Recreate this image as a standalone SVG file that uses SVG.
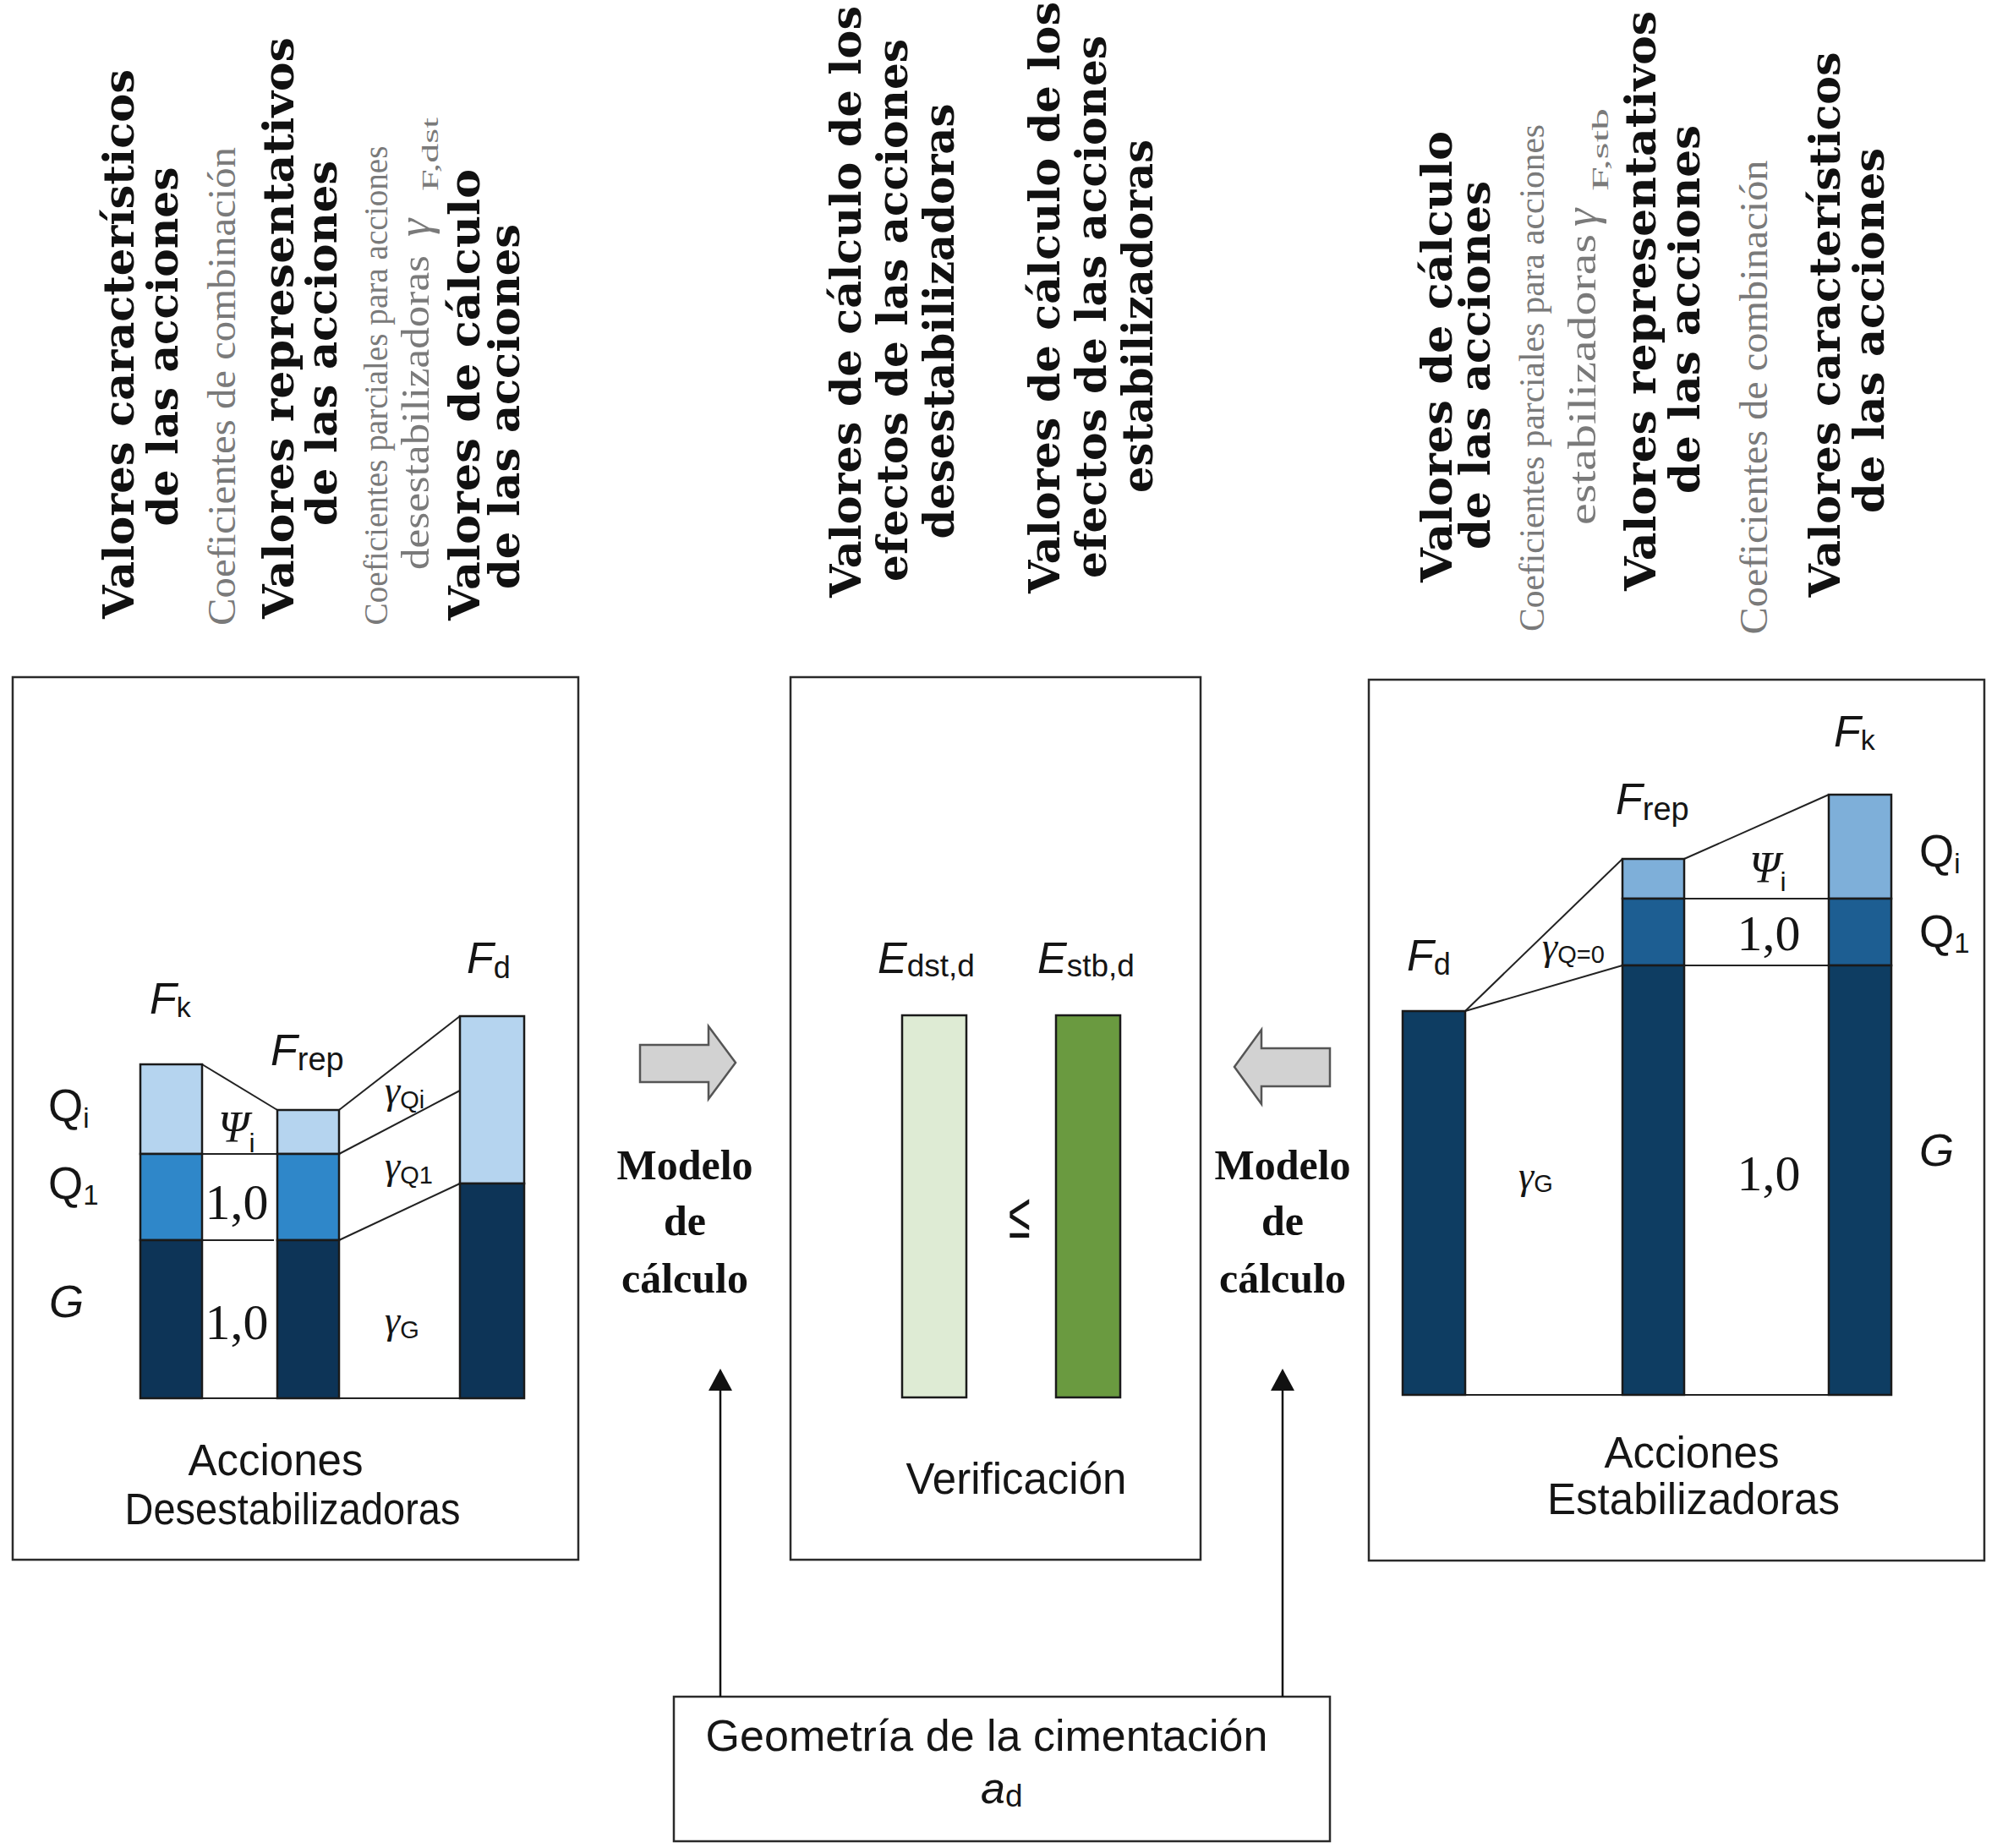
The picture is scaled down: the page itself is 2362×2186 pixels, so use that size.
<svg xmlns="http://www.w3.org/2000/svg" width="2362" height="2186" viewBox="0 0 2362 2186">
<style>
.bold{font-family:"DejaVu Serif","Liberation Serif",serif;font-weight:bold;font-size:50px;fill:#111;text-anchor:middle}
.gray{font-family:"Liberation Serif",serif;fill:#7a7a7a;text-anchor:middle}
.grs{font-family:"Liberation Serif",serif;fill:#7a7a7a}
.sans{font-family:"Liberation Sans",Arial,sans-serif;fill:#151515}
.ser{font-family:"Liberation Serif",serif;fill:#151515}
.box{fill:none;stroke:#2a2a2a;stroke-width:2.5}
.col{stroke:#1a1a1a;stroke-width:2.5}
.ln{stroke:#222;stroke-width:2;fill:none}
.lq{fill:#b5d4ef}.lq1{fill:#2f87c9}.lg{fill:#0d3457}
.rq{fill:#7eafd9}.rq1{fill:#1d5e92}.rg{fill:#0e3d62}
.blk{fill:#d2d2d2;stroke:#555;stroke-width:2.5}
.mdl{font-family:"Liberation Serif",serif;font-weight:bold;font-size:50px;fill:#111;text-anchor:middle}
</style>
<rect width="2362" height="2186" fill="#fff"/>

<!-- Top vertical captions, left group -->
<g id="captions-left">
<text class="bold" transform="translate(158,407) rotate(-90)" textLength="650" lengthAdjust="spacingAndGlyphs">Valores característicos</text>
<text class="bold" transform="translate(210,410) rotate(-90)" textLength="425" lengthAdjust="spacingAndGlyphs">de las acciones</text>
<text class="gray" font-size="46" transform="translate(278,457) rotate(-90)" textLength="566" lengthAdjust="spacingAndGlyphs">Coeficientes de combinación</text>
<text class="bold" transform="translate(347,388) rotate(-90)" textLength="688" lengthAdjust="spacingAndGlyphs">Valores representativos</text>
<text class="bold" transform="translate(398,406) rotate(-90)" textLength="432" lengthAdjust="spacingAndGlyphs">de las acciones</text>
<text class="gray" font-size="40" transform="translate(458,456) rotate(-90)" textLength="567" lengthAdjust="spacingAndGlyphs">Coeficientes parciales para acciones</text>
<text class="gray" font-size="46" transform="translate(507,488) rotate(-90)" textLength="372" lengthAdjust="spacingAndGlyphs">desestabilizadoras</text>
<text class="grs" font-size="54" font-style="italic" transform="translate(508,280) rotate(-90)">γ</text>
<text class="grs" font-size="27" transform="translate(518,226) rotate(-90)" textLength="87" lengthAdjust="spacingAndGlyphs">F,dst</text>
<text class="bold" transform="translate(567,467) rotate(-90)" textLength="534" lengthAdjust="spacingAndGlyphs">Valores de cálculo</text>
<text class="bold" transform="translate(614,481) rotate(-90)" textLength="432" lengthAdjust="spacingAndGlyphs">de las acciones</text>
</g>

<!-- Top vertical captions, middle group -->
<g id="captions-middle">
<text class="bold" transform="translate(1018,357) rotate(-90)" textLength="700" lengthAdjust="spacingAndGlyphs">Valores de cálculo de los</text>
<text class="bold" transform="translate(1073,367) rotate(-90)" textLength="642" lengthAdjust="spacingAndGlyphs">efectos de las acciones</text>
<text class="bold" transform="translate(1128,380) rotate(-90)" textLength="515" lengthAdjust="spacingAndGlyphs">desestabilizadoras</text>
<text class="bold" transform="translate(1253,352) rotate(-90)" textLength="700" lengthAdjust="spacingAndGlyphs">Valores de cálculo de los</text>
<text class="bold" transform="translate(1308,363) rotate(-90)" textLength="642" lengthAdjust="spacingAndGlyphs">efectos de las acciones</text>
<text class="bold" transform="translate(1363,374) rotate(-90)" textLength="418" lengthAdjust="spacingAndGlyphs">estabilizadoras</text>
</g>

<!-- Top vertical captions, right group -->
<g id="captions-right">
<text class="bold" transform="translate(1717,422) rotate(-90)" textLength="534" lengthAdjust="spacingAndGlyphs">Valores de cálculo</text>
<text class="bold" transform="translate(1762,432) rotate(-90)" textLength="436" lengthAdjust="spacingAndGlyphs">de las acciones</text>
<text class="gray" font-size="42" transform="translate(1826,447) rotate(-90)" textLength="600" lengthAdjust="spacingAndGlyphs">Coeficientes parciales para acciones</text>
<text class="gray" font-size="46" transform="translate(1887,449) rotate(-90)" textLength="344" lengthAdjust="spacingAndGlyphs">estabilizadoras</text>
<text class="grs" font-size="54" font-style="italic" transform="translate(1888,268) rotate(-90)">γ</text>
<text class="grs" font-size="27" transform="translate(1902,226) rotate(-90)" textLength="98" lengthAdjust="spacingAndGlyphs">F,stb</text>
<text class="bold" transform="translate(1958,356) rotate(-90)" textLength="686" lengthAdjust="spacingAndGlyphs">Valores representativos</text>
<text class="bold" transform="translate(2010,366) rotate(-90)" textLength="436" lengthAdjust="spacingAndGlyphs">de las acciones</text>
<text class="gray" font-size="46" transform="translate(2090,470) rotate(-90)" textLength="561" lengthAdjust="spacingAndGlyphs">Coeficientes de combinación</text>
<text class="bold" transform="translate(2176,384) rotate(-90)" textLength="645" lengthAdjust="spacingAndGlyphs">Valores característicos</text>
<text class="bold" transform="translate(2228,391) rotate(-90)" textLength="432" lengthAdjust="spacingAndGlyphs">de las acciones</text>
</g>

<!-- Left panel: Acciones Desestabilizadoras -->
<g id="panel-desestabilizadoras">
<rect class="box" x="15" y="801" width="669" height="1044"/>
<line class="ln" x1="166" y1="1654" x2="620" y2="1654"/>
<line class="ln" x1="239" y1="1259" x2="328" y2="1313"/>
<line class="ln" x1="239" y1="1365" x2="328" y2="1365"/>
<line class="ln" x1="239" y1="1467" x2="324" y2="1467"/>
<line class="ln" x1="401" y1="1313" x2="544" y2="1202"/>
<line class="ln" x1="401" y1="1365" x2="544" y2="1290"/>
<line class="ln" x1="401" y1="1467" x2="544" y2="1400"/>
<rect class="lq col" x="166" y="1259" width="73" height="106"/>
<rect class="lq1 col" x="166" y="1365" width="73" height="102"/>
<rect class="lg col" x="166" y="1467" width="73" height="187"/>
<rect class="lq col" x="328" y="1313" width="73" height="52"/>
<rect class="lq1 col" x="328" y="1365" width="73" height="102"/>
<rect class="lg col" x="328" y="1467" width="73" height="187"/>
<rect class="lq col" x="544" y="1202" width="76" height="198"/>
<rect class="lg col" x="544" y="1400" width="76" height="254"/>
<text class="sans" x="177" y="1199" font-size="52"><tspan font-style="italic">F</tspan><tspan font-size="34" dy="4">k</tspan></text>
<text class="sans" x="320" y="1260" font-size="52"><tspan font-style="italic">F</tspan><tspan font-size="38" dy="6">rep</tspan></text>
<text class="sans" x="552" y="1151" font-size="52"><tspan font-style="italic">F</tspan><tspan font-size="36" dy="6">d</tspan></text>
<text class="sans" x="57" y="1326" font-size="53">Q<tspan font-size="33" dy="8">i</tspan></text>
<text class="sans" x="57" y="1418" font-size="53">Q<tspan font-size="33" dy="7">1</tspan></text>
<text class="sans" x="58" y="1558" font-size="53" font-style="italic">G</text>
<text class="ser" x="258" y="1351" font-size="52" font-style="italic">Ψ<tspan class="sans" font-style="normal" font-size="32" dy="12">i</tspan></text>
<text class="ser" x="280" y="1442" font-size="60" text-anchor="middle">1,0</text>
<text class="ser" x="280" y="1584" font-size="60" text-anchor="middle">1,0</text>
<text class="ser" x="455" y="1305" font-size="46" font-style="italic">γ<tspan class="sans" font-style="normal" font-size="29" dy="6">Qi</tspan></text>
<text class="ser" x="455" y="1394" font-size="46" font-style="italic">γ<tspan class="sans" font-style="normal" font-size="29" dy="6">Q1</tspan></text>
<text class="ser" x="455" y="1577" font-size="46" font-style="italic">γ<tspan class="sans" font-style="normal" font-size="29" dy="6">G</tspan></text>
<text class="sans" x="326" y="1745" font-size="51" text-anchor="middle">Acciones</text>
<text class="sans" x="346" y="1803" font-size="51" text-anchor="middle" textLength="397" lengthAdjust="spacingAndGlyphs">Desestabilizadoras</text>
</g>

<!-- Middle panel: Verificación -->
<g id="panel-verificacion">
<rect class="box" x="935" y="801" width="485" height="1044"/>
<rect x="1067" y="1201" width="76" height="452" fill="#deebd4" stroke="#1a1a1a" stroke-width="2.5"/>
<rect x="1249" y="1201" width="76" height="452" fill="#6a9a40" stroke="#1a1a1a" stroke-width="2.5"/>
<text class="sans" x="1038" y="1151" font-size="52"><tspan font-style="italic">E</tspan><tspan font-size="37" dy="4">dst,d</tspan></text>
<text class="sans" x="1227" y="1151" font-size="52"><tspan font-style="italic">E</tspan><tspan font-size="37" dy="4">stb,d</tspan></text>
<text class="sans" font-size="76" text-anchor="middle" transform="translate(1206,1464) scale(0.62,1)">≤</text>
<text class="sans" x="1202" y="1767" font-size="51" text-anchor="middle">Verificación</text>
</g>

<!-- Right panel: Acciones Estabilizadoras -->
<g id="panel-estabilizadoras">
<rect class="box" x="1619" y="804" width="728" height="1042"/>
<line class="ln" x1="1733" y1="1650" x2="2163" y2="1650"/>
<line class="ln" x1="1733" y1="1196" x2="1919" y2="1016"/>
<line class="ln" x1="1733" y1="1196" x2="1919" y2="1142"/>
<line class="ln" x1="1992" y1="1016" x2="2163" y2="940"/>
<line class="ln" x1="1992" y1="1063" x2="2163" y2="1063"/>
<line class="ln" x1="1992" y1="1142" x2="2163" y2="1142"/>
<rect class="rg col" x="1659" y="1196" width="74" height="454"/>
<rect class="rq col" x="1919" y="1016" width="73" height="47"/>
<rect class="rq1 col" x="1919" y="1063" width="73" height="79"/>
<rect class="rg col" x="1919" y="1142" width="73" height="508"/>
<rect class="rq col" x="2163" y="940" width="74" height="123"/>
<rect class="rq1 col" x="2163" y="1063" width="74" height="79"/>
<rect class="rg col" x="2163" y="1142" width="74" height="508"/>
<text class="sans" x="2169" y="883" font-size="52"><tspan font-style="italic">F</tspan><tspan font-size="34" dy="4">k</tspan></text>
<text class="sans" x="1911" y="963" font-size="52"><tspan font-style="italic">F</tspan><tspan font-size="38" dy="7">rep</tspan></text>
<text class="sans" x="1664" y="1148" font-size="52"><tspan font-style="italic">F</tspan><tspan font-size="36" dy="5">d</tspan></text>
<text class="sans" x="2270" y="1025" font-size="53">Q<tspan font-size="33" dy="8">i</tspan></text>
<text class="sans" x="2270" y="1120" font-size="53">Q<tspan font-size="33" dy="7">1</tspan></text>
<text class="sans" x="2270" y="1379" font-size="53" font-style="italic">G</text>
<text class="ser" x="2069" y="1044" font-size="52" font-style="italic">Ψ<tspan class="sans" font-style="normal" font-size="32" dy="10">i</tspan></text>
<text class="ser" x="2092" y="1124" font-size="60" text-anchor="middle">1,0</text>
<text class="ser" x="2092" y="1408" font-size="60" text-anchor="middle">1,0</text>
<text class="ser" x="1824" y="1135" font-size="46" font-style="italic">γ<tspan class="sans" font-style="normal" font-size="29" dy="4">Q=0</tspan></text>
<text class="ser" x="1796" y="1406" font-size="46" font-style="italic">γ<tspan class="sans" font-style="normal" font-size="29" dy="4">G</tspan></text>
<text class="sans" x="2001" y="1736" font-size="51" text-anchor="middle">Acciones</text>
<text class="sans" x="2003" y="1791" font-size="51" text-anchor="middle">Estabilizadoras</text>
</g>

<!-- Bottom node -->
<g id="geometria">
<rect class="box" x="797" y="2007" width="776" height="171"/>
<text class="sans" x="1167" y="2071" font-size="52" text-anchor="middle">Geometría de la cimentación</text>
<text class="sans" x="1160" y="2133" font-size="52"><tspan font-style="italic">a</tspan><tspan font-size="37" dy="4">d</tspan></text>
</g>

<!-- Modelo de cálculo labels -->
<g id="modelo-izq">
<text class="mdl" x="810" y="1395">Modelo</text>
<text class="mdl" x="810" y="1461">de</text>
<text class="mdl" x="810" y="1529">cálculo</text>
</g>
<g id="modelo-der">
<text class="mdl" x="1517" y="1395">Modelo</text>
<text class="mdl" x="1517" y="1461">de</text>
<text class="mdl" x="1517" y="1529">cálculo</text>
</g>

<!-- Connectors -->
<g id="connectors">
<path class="blk" d="M757,1236 H838 V1214 L870,1257 L838,1300 V1280 H757 Z"/>
<path class="blk" d="M1573,1240 H1492 V1218 L1460,1262 L1492,1306 V1285 H1573 Z"/>
<line x1="852" y1="2007" x2="852" y2="1640" stroke="#111" stroke-width="2.5"/>
<path d="M852,1619 L838,1645 L866,1645 Z" fill="#111"/>
<line x1="1517" y1="2007" x2="1517" y2="1640" stroke="#111" stroke-width="2.5"/>
<path d="M1517,1619 L1503,1645 L1531,1645 Z" fill="#111"/>
</g>
</svg>
